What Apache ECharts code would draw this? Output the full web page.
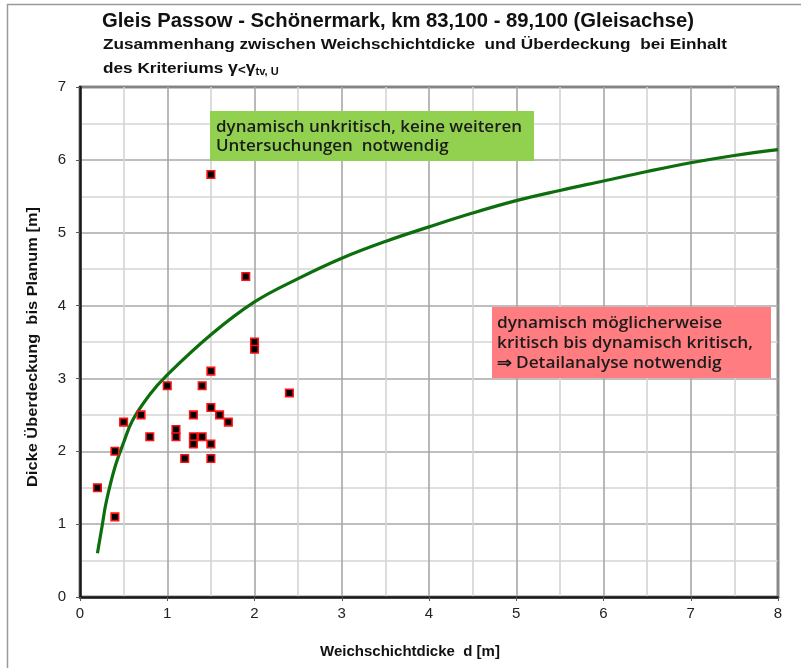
<!DOCTYPE html>
<html>
<head>
<meta charset="utf-8">
<script src="https://cdn.jsdelivr.net/npm/echarts@6/dist/echarts.min.js"></script>
<style>
html,body{margin:0;padding:0;background:#fff;}
#c{width:801px;height:668px;}
</style>
</head>
<body>
<div id="c"></div>
<script>
// Measured points: [Weichschichtdicke d, Dicke Überdeckung]
const pointsD = [0.2, 0.4, 0.4, 0.5, 0.7, 0.8, 1.0, 1.1, 1.1, 1.2, 1.3, 1.3, 1.3, 1.4, 1.4, 1.5, 1.5, 1.5, 1.5, 1.5, 1.6, 1.7, 1.9, 2.0, 2.0, 2.4];
const pointsH = [1.5, 1.1, 2.0, 2.4, 2.5, 2.2, 2.9, 2.3, 2.2, 1.9, 2.5, 2.2, 2.1, 2.9, 2.2, 3.1, 2.6, 2.1, 1.9, 5.8, 2.5, 2.4, 4.4, 3.5, 3.4, 2.8];

// Boundary curve
const curveD = [0.2, 0.25, 0.3, 0.4, 0.5, 0.6, 0.8, 1.0, 1.5, 2.0, 2.5, 3.0, 3.5, 4.0, 4.5, 5.0, 5.5, 6.0, 6.5, 7.0, 7.5, 8.0];
const curveH = [0.6, 0.95, 1.3, 1.78, 2.12, 2.42, 2.78, 3.05, 3.6, 4.05, 4.37, 4.65, 4.88, 5.08, 5.27, 5.44, 5.58, 5.71, 5.84, 5.96, 6.06, 6.14];

const xTicks = [0, 1, 2, 3, 4, 5, 6, 7, 8];
const yTicks = [0, 1, 2, 3, 4, 5, 6, 7];

const titleLine1 = 'Gleis Passow - Schönermark, km 83,100 - 89,100 (Gleisachse)';
const titleLine2 = 'Zusammenhang zwischen Weichschichtdicke  und Überdeckung  bei Einhalt';
const xName = 'Weichschichtdicke  d [m]';
const yName = 'Dicke Überdeckung  bis Planum [m]';
const greenText = ['dynamisch unkritisch, keine weiteren', 'Untersuchungen  notwendig'];
const redText = ['dynamisch möglicherweise', 'kritisch bis dynamisch kritisch,', '⇒ Detailanalyse notwendig'];

// horizontal stretch so that a text line spans the same width as in the picture
const ctx = document.createElement('canvas').getContext('2d');
function fit(text, font, target) {
  ctx.font = font;
  return target / ctx.measureText(text).width;
}

const f1 = 'bold 20px "Liberation Sans"';
const f2 = 'bold 15.5px "Liberation Sans"';
const fY = 'bold 15px "Liberation Sans"';
const boxFont = '600 15.5px "Open Sans"';
const s1 = fit(titleLine1, f1, 592);
const s2 = fit(titleLine2, f2, 624);
const sY = fit(yName, fY, 280);
const sG = fit(greenText[0], boxFont, 306);
const sR = fit(redText[1], boxFont, 256);

const chart = echarts.init(document.getElementById('c'), null, {renderer: 'canvas'});

const option = {
  backgroundColor: '#ffffff',
  animation: false,
  grid: {left: 80, right: 23, top: 87, bottom: 71, show: true, borderColor: '#1a1a1a', borderWidth: 2.5, backgroundColor: '#fff', z: 0},
  xAxis: {
    type: 'value', min: xTicks[0], max: xTicks[xTicks.length - 1], interval: 1,
    axisLine: {show: true, onZero: false, lineStyle: {color: '#1a1a1a', width: 2.5}},
    axisTick: {show: true, length: 4, lineStyle: {color: '#555', width: 1}},
    axisLabel: {fontFamily: 'Liberation Sans', fontSize: 15, color: '#222', margin: 9},
    splitLine: {show: true, lineStyle: {color: '#a8a8a8', width: 1.6}},
    minorTick: {show: false, splitNumber: 2},
    minorSplitLine: {show: true, lineStyle: {color: '#d4d4d4', width: 1.6}}
  },
  yAxis: {
    type: 'value', min: yTicks[0], max: yTicks[yTicks.length - 1], interval: 1,
    axisLine: {show: true, onZero: false, lineStyle: {color: '#1a1a1a', width: 2.5}},
    axisTick: {show: true, length: 4, lineStyle: {color: '#555', width: 1}},
    axisLabel: {fontFamily: 'Liberation Sans', fontSize: 15, color: '#222', margin: 14},
    splitLine: {show: true, lineStyle: {color: '#a8a8a8', width: 1.6}},
    minorTick: {show: false, splitNumber: 2},
    minorSplitLine: {show: true, lineStyle: {color: '#d4d4d4', width: 1.6}}
  },
  series: [
    {
      type: 'line', smooth: 0.4, showSymbol: false, symbol: 'none',
      data: curveD.map((d, i) => [d, curveH[i]]),
      lineStyle: {color: '#0d6e0d', width: 3.2}, z: 3
    },
    {
      type: 'scatter', symbol: 'rect', symbolSize: 7.5,
      data: pointsD.map((d, i) => [d, pointsH[i]]),
      itemStyle: {color: '#000', borderColor: '#ff1010', borderWidth: 1.6, opacity: 1}, z: 4
    }
  ],
  graphic: [
    {type: 'rect', shape: {x: 7.5, y: 4.5, width: 820, height: 700}, style: {fill: 'none', stroke: '#9a9a9a', lineWidth: 1.5}, z: -10, silent: true},
    {type: 'text', x: 102, y: 21, scaleX: s1, style: {text: titleLine1, font: f1, fill: '#111', textVerticalAlign: 'middle'}},
    {type: 'text', x: 103, y: 45, scaleX: s2, style: {text: titleLine2, font: f2, fill: '#111', textVerticalAlign: 'middle'}},
    {type: 'text', x: 103, y: 67, scaleX: s2, style: {
      text: '{a|des Kriteriums }{g|γ}{l|<}{g|γ}{s|tv, U}',
      textVerticalAlign: 'middle',
      rich: {
        a: {font: f2, fill: '#111', lineHeight: 20, verticalAlign: 'bottom'},
        g: {font: 'bold 16px "Liberation Sans"', fill: '#111', lineHeight: 20, verticalAlign: 'bottom'},
        l: {font: 'bold 12px "Liberation Sans"', fill: '#111', lineHeight: 18, verticalAlign: 'bottom'},
        s: {font: 'bold 10px "Liberation Sans"', fill: '#111', lineHeight: 16, verticalAlign: 'bottom'}
      }
    }},
    {type: 'text', x: 33, y: 347, rotation: Math.PI / 2, scaleX: sY, style: {text: yName, font: fY, fill: '#111', textAlign: 'center', textVerticalAlign: 'middle'}},
    {type: 'text', x: 410, y: 652, style: {text: xName, font: 'bold 15px "Liberation Sans"', fill: '#111', textAlign: 'center', textVerticalAlign: 'middle'}},
    {type: 'rect', shape: {x: 210, y: 111, width: 324, height: 50}, style: {fill: '#92d050'}, z: 10},
    {type: 'text', x: 216, y: 128, z: 11, scaleX: sG, style: {text: greenText[0], font: boxFont, fill: '#1c1c1c', textVerticalAlign: 'middle'}},
    {type: 'text', x: 216, y: 147, z: 11, scaleX: sG, style: {text: greenText[1], font: boxFont, fill: '#1c1c1c', textVerticalAlign: 'middle'}},
    {type: 'rect', shape: {x: 492, y: 307, width: 279, height: 71}, style: {fill: '#ff7c80'}, z: 10},
    {type: 'text', x: 497, y: 324, z: 11, scaleX: sR, style: {text: redText[0], font: boxFont, fill: '#1c1c1c', textVerticalAlign: 'middle'}},
    {type: 'text', x: 497, y: 344, z: 11, scaleX: sR, style: {text: redText[1], font: boxFont, fill: '#1c1c1c', textVerticalAlign: 'middle'}},
    {type: 'text', x: 497, y: 364, z: 11, scaleX: sR, style: {text: redText[2], font: boxFont, fill: '#1c1c1c', textVerticalAlign: 'middle'}}
  ]
};
chart.setOption(option);
</script>
</body>
</html>
